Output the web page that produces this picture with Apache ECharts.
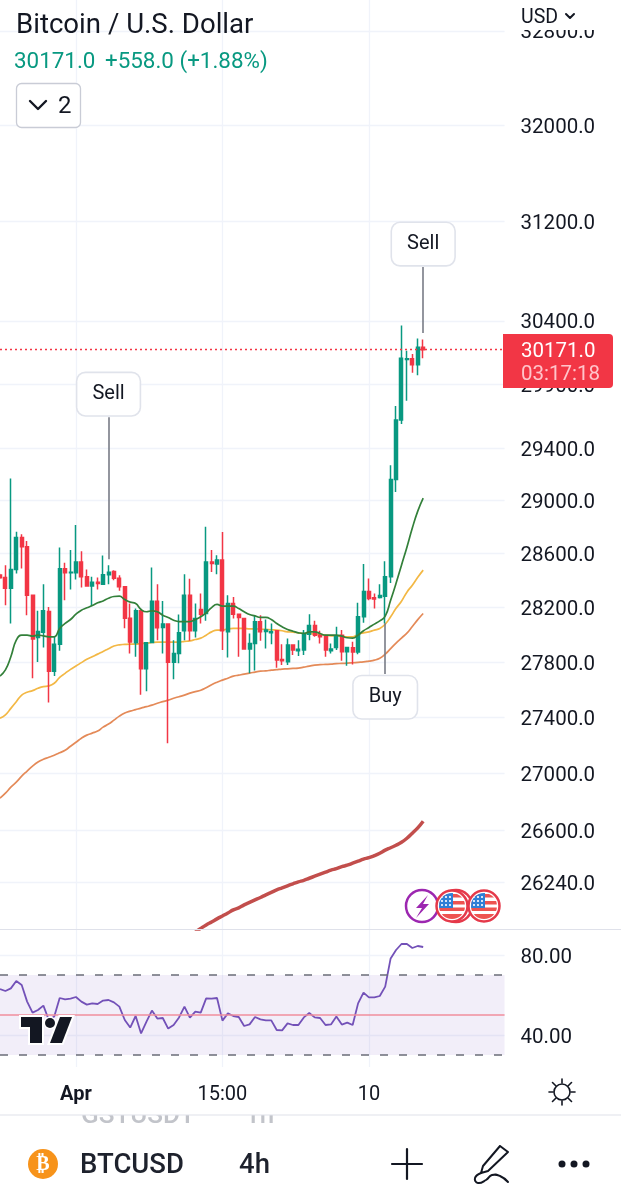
<!DOCTYPE html>
<html>
<head>
<meta charset="utf-8">
<title>BTCUSD</title>
<style>
html,body{margin:0;padding:0;background:#fff;}
#main{width:621px;height:1200px;}
</style>
<script src="https://cdn.jsdelivr.net/npm/echarts@6/dist/echarts.min.js"></script>
</head>
<body>
<div id="main"></div>
<script>
/* [open, close, low, high], index 0 sits on the left edge */
var candles = [
[28440,28420,28410,28450],[28422,28343,28217,28514],[28343,28482,28082,29170],[28482,28722,28452,28765],
[28722,28652,28490,28747],[28652,28290,28143,28695],[28290,27967,27681,28290],[27979,28023,27800,28175],
[28018,28175,27906,28372],[28170,27732,27507,28204],[27732,27930,27698,27984],[27930,28487,27882,28647],
[28487,28457,28253,28532],[28457,28462,28333,28627],[28457,28537,28407,28815],[28537,28427,28348,28619],
[28427,28358,28358,28482],[28358,28387,28209,28427],[28387,28377,28333,28422],[28372,28442,28372,28587],
[28442,28462,28372,28514],[28467,28417,28402,28477],[28417,28353,28323,28439],[28353,28121,28047,28353],
[28121,27945,27862,28229],[27940,28175,27838,28192],[28175,27751,27562,28175],[27751,27940,27587,27940],
[27942,28246,27940,28497],[28246,28050,27959,28372],[28052,28077,27862,28248],[28077,27797,27214,28082],
[27797,27862,27674,27959],[27862,28013,27790,28148],[28028,28290,27959,28447],[28290,28028,27954,28412],
[28028,28119,27979,28229],[28185,28150,28082,28303],[28155,28537,28101,28803],[28537,28527,28464,28627],
[28522,28552,28447,28589],[28552,28028,27887,28763],[28020,28229,27833,28290],[28229,28150,28119,28278],
[28150,28126,27838,28150],[28119,27894,27889,28119],[27894,27935,27717,28008],[27935,28094,27737,28143],
[28094,28020,27954,28143],[28023,28033,27899,28111],[28013,28020,27930,28082],[28028,27814,27758,28028],
[27818,27809,27778,27930],[27802,27923,27778,27972],[27923,27887,27850,27930],[27882,27892,27843,27959],
[27887,28008,27850,28033],[28003,28067,27959,28150],[28067,27996,27984,28101],[27996,27984,27935,28028],
[27989,27887,27838,27996],[27882,27894,27862,27935],[27906,27984,27887,28057],[27996,27875,27809,28033],
[27875,27906,27773,27911],[27904,27872,27782,27947],[27872,28131,27857,28234],[28131,28318,28087,28522],
[28318,28266,28253,28414],[28271,28263,28192,28303],[28273,28288,28266,28372],[28283,28427,28082,28544],
[28427,29162,28382,29271],[29162,29619,29067,29728],[29619,30102,29588,30363],[30094,30099,29769,30162],
[30099,30051,29988,30136],[30051,30189,29970,30260],[30189,30171,30102,30252]
];
var greenMa = [27698,27742,27838,27959,27996,27996,27989,27996,27991,27984,27984,28045,28082,28111,28150,28180,28197,28214,28234,28248,28268,28281,28283,28258,28239,28229,28185,28168,28175,28168,28143,28126,28106,28096,28096,28096,28111,28131,28160,28199,28222,28209,28209,28209,28192,28168,28148,28138,28126,28126,28111,28082,28057,28038,28025,28013,28008,28020,28020,28008,27996,27996,27996,27989,27977,27974,27996,28028,28052,28077,28101,28136,28253,28379,28514,28649,28793,28921,29020];
var yellowMa = [27393,27417,27464,27512,27560,27580,27592,27609,27621,27626,27645,27688,27717,27746,27770,27795,27819,27838,27857,27877,27896,27916,27925,27928,27930,27930,27935,27937,27942,27945,27945,27945,27945,27945,27950,27954,27964,27974,27996,28020,28033,28033,28042,28045,28045,28045,28042,28042,28040,28038,28035,28033,28028,28020,28018,28013,28008,28008,28003,28001,27996,27991,27989,27987,27984,27984,28003,28013,28020,28033,28045,28077,28131,28194,28246,28313,28365,28424,28477];
var orangeMa = [26825,26860,26903,26938,26980,27016,27051,27080,27100,27114,27129,27146,27164,27193,27221,27250,27272,27286,27301,27329,27351,27379,27408,27430,27444,27455,27466,27476,27487,27501,27512,27523,27537,27548,27559,27574,27585,27595,27613,27635,27653,27668,27682,27697,27704,27711,27719,27726,27733,27735,27740,27744,27748,27750,27753,27755,27762,27769,27777,27780,27782,27784,27788,27789,27791,27794,27797,27800,27806,27813,27827,27857,27897,27938,27975,28011,28060,28110,28155];
var darkMa = [null,null,null,null,null,null,null,null,null,null,null,null,null,null,null,null,null,null,null,null,null,null,null,null,null,null,null,null,null,null,null,null,null,null,null,null,25900,25925,25949,25969,25990,26010,26030,26051,26065,26085,26102,26119,26136,26154,26171,26188,26202,26216,26230,26243,26254,26268,26282,26296,26310,26324,26334,26348,26358,26372,26386,26400,26410,26424,26441,26462,26479,26496,26517,26545,26580,26617,26663];
var rsi = [63,62,63.3,67,65,56.7,51.2,52.5,54.7,47.5,49.2,58.5,57.8,58.2,59,56.7,55.2,55.8,55.5,57.2,57.5,56.3,54.2,47.5,43.7,49.5,40.8,46.7,52.2,48.2,48.5,43.2,45,48.8,54.2,48.7,51.7,51.2,58.3,58.2,58.5,47.2,50.8,49.5,49,44.5,45.3,49,47.8,47.3,47.3,42.5,42.3,45.8,45,45,48.8,51,48.8,48.5,45,45.3,49.3,45.2,46.2,45,55.8,61.2,58.8,58.8,59.5,64.2,78.3,82.5,85.5,85.5,83.5,84.5,84];

var priceTicks = [32800,32000,31200,30400,29900,29400,29000,28600,28200,27800,27400,27000,26600,26240];
var rsiTicks = [80,40];
var timeTickIndex = [14,41,68];
var timeTickLabels = ['Apr','15:00','10'];
var lastPrice = 30171;

var signalText = ['Sell','Sell','Buy'];
var signalIndex = [20,78,71];
var signalBoxPrice = [29821,31017,27544];
var signalPinFrom = [29642,30831,28084];
var signalPinTo = [28559,30302,27712];

var categories = [];
for(var n = 0; n < 94; n++){categories.push(String(n));}

var UP = '#089981', DOWN = '#F23645', FONT = 'Roboto', INK = '#131722';

function isTimeTick(i){return timeTickIndex.indexOf(Number(i)) >= 0}

function txt(x,y,str,size,color,extra){
    var s = {x:x,y:y,text:str,fontFamily:FONT,fontSize:size,fill:color,textVerticalAlign:'middle'};
    for(var k in (extra||{})){s[k] = extra[k];}
    return {type:'text',z:100,silent:true,style:s};
}
function seg(x1,y1,x2,y2,color,w){
    return {type:'line',z:100,silent:true,shape:{x1:x1,y1:y1,x2:x2,y2:y2},style:{stroke:color,lineWidth:w,lineCap:'round'}};
}
function poly(points,color,w,smooth){
    return {type:'polyline',z:100,silent:true,shape:{points:points,smooth:smooth||0},style:{stroke:color,lineWidth:w,fill:null,lineCap:'round',lineJoin:'round'}};
}
function flagIcon(x,y){
    var stars = '';
    [[7,8],[11,8],[15,8],[7,12],[11,12],[15,12],[7,16],[11,16],[15,16]].forEach(function(p){
        stars += "<circle cx='"+p[0]+"' cy='"+p[1]+"' r='1.1' fill='#fff'/>";
    });
    var svg = "<svg xmlns='http://www.w3.org/2000/svg' width='34' height='34'><defs><clipPath id='c'><circle cx='17' cy='17' r='13'/></clipPath></defs>"
        +"<circle cx='17' cy='17' r='15.5' fill='#fff' stroke='#e5394a' stroke-width='2.5'/><g clip-path='url(#c)'><rect width='34' height='34' fill='#fff'/>"
        +"<rect y='5' width='34' height='3.5' fill='#ee5350'/><rect y='12' width='34' height='3.5' fill='#ee5350'/><rect y='18.5' width='34' height='3.5' fill='#ee5350'/><rect y='25' width='34' height='6' fill='#ee5350'/>"
        +"<rect y='3' x='3' width='15' height='16' fill='#2f7fd6'/>"+stars+"</g></svg>";
    return {type:'image',z:101,silent:true,style:{image:'data:image/svg+xml,'+encodeURIComponent(svg),x:x-17,y:y-17,width:34,height:34}};
}

var chartObj = {
    myChart : echarts.init(document.getElementById('main')),
    init : function(){
        this.render();
    },
    signalLines : function(){
        var arr = [];
        for(var i = 0; i < signalText.length; i++){
            arr.push([
                {coord:[categories[signalIndex[i]],signalPinFrom[i]]},
                {coord:[categories[signalIndex[i]],signalPinTo[i]]}
            ]);
        }
        return arr;
    },
    signalBoxes : function(){
        var arr = [];
        for(var i = 0; i < signalText.length; i++){
            arr.push({name:signalText[i],coord:[categories[signalIndex[i]],signalBoxPrice[i]]});
        }
        return arr;
    },
    overlay : function(){
        var list = [
            /* top right, hides most of the 32800 label */
            {type:'rect',z:99,silent:true,shape:{x:505,y:0,width:116,height:30},style:{fill:'#fff'}},
            txt(16,26,'Bitcoin / U.S. Dollar',27.6,INK),
            txt(14,62,'30171.0',22.4,UP),
            txt(105,62,'+558.0 (+1.88%)',22.4,UP),
            {type:'rect',z:100,silent:true,shape:{x:16.5,y:83.5,width:64,height:44,r:5},style:{fill:'#fff',stroke:'#c9ccd6',lineWidth:1.3}},
            poly([[30,101],[38,109],[46,101]],INK,2.4),
            txt(58,107,'2',24,INK),
            txt(521,18,'USD',19.5,INK),
            poly([[566,14],[570,18],[574,14]],INK,2),
            /* last price tag */
            {type:'rect',z:100,silent:true,shape:{x:503,y:334,width:110,height:54,r:[0,4,4,0]},style:{fill:DOWN}},
            txt(521,352,'30171.0',20.5,'#fff'),
            txt(521,375,'03:17:18',20.5,'#ffc4ca'),
            /* indicator badges */
            {type:'circle',z:100,silent:true,shape:{cx:422,cy:906,r:16},style:{fill:'#fff',stroke:'#9c27b0',lineWidth:2.5}},
            {type:'polygon',z:100,silent:true,shape:{points:[[428,895],[416,908],[422,908],[416,918],[429,904],[423,904]]},style:{fill:'#9c27b0'}},
            flagIcon(484,906),
            {type:'circle',z:100,silent:true,shape:{cx:456,cy:906,r:16},style:{fill:'#fff',stroke:'#e5394a',lineWidth:2.5}},
            flagIcon(452,906),
            /* watermark */
            {type:'polygon',z:100,silent:true,shape:{points:[[21,1017],[42,1017],[42,1043],[30,1043],[30,1027],[21,1027]]},style:{fill:INK,stroke:'#fff',lineWidth:4}},
            {type:'circle',z:100,silent:true,shape:{cx:50,cy:1023,r:5},style:{fill:INK,stroke:'#fff',lineWidth:3}},
            {type:'polygon',z:100,silent:true,shape:{points:[[60,1017],[72,1017],[62,1043],[50,1043]]},style:{fill:INK,stroke:'#fff',lineWidth:4}},
            {type:'polygon',z:101,silent:true,shape:{points:[[21,1017],[42,1017],[42,1043],[30,1043],[30,1027],[21,1027]]},style:{fill:INK}},
            {type:'polygon',z:101,silent:true,shape:{points:[[60,1017],[72,1017],[62,1043],[50,1043]]},style:{fill:INK}},
            {type:'circle',z:101,silent:true,shape:{cx:50,cy:1023,r:5},style:{fill:INK}},
            /* settings sun */
            {type:'circle',z:100,silent:true,shape:{cx:562,cy:1092,r:8},style:{fill:'#fff',stroke:INK,lineWidth:1.6}},
            /* bottom bar, the list behind it is cut by the separator */
            txt(81,1116,'GSTUSDT',26,'#c2c4ca',{fontWeight:500}),
            txt(245,1116,'1h',26,'#c2c4ca',{fontWeight:500}),
            {type:'rect',z:100,silent:true,shape:{x:60,y:1104,width:240,height:11},style:{fill:'#fff'}},
            {type:'line',z:100,silent:true,shape:{x1:0,y1:929.5,x2:621,y2:929.5},style:{stroke:'#dfe1ea',lineWidth:1.2}},
            {type:'line',z:100,silent:true,shape:{x1:0,y1:1115,x2:621,y2:1115},style:{stroke:'#dfe1ea',lineWidth:1.2}},
            {type:'circle',z:100,silent:true,shape:{cx:43,cy:1164,r:15},style:{fill:'#f7931a'}},
            txt(43,1165,'₿',20,'#fff',{textAlign:'center',fontFamily:'DejaVu Sans',fontWeight:'bold'}),
            txt(80,1166,'BTCUSD',27.5,'#1e222d',{fontWeight:500}),
            txt(239,1166,'4h',27.5,'#1e222d',{fontWeight:500}),
            seg(392,1164,422,1164,INK,2.2),
            seg(407,1149,407,1179,INK,2.2),
            poly([[500,1146],[483,1166],[481,1173],[488,1171],[508,1152],[500,1146]],INK,2),
            poly([[481,1173],[475,1178],[478,1183],[486,1180],[492,1175],[500,1176],[508,1182]],INK,2,0.5),
            {type:'circle',z:100,silent:true,shape:{cx:562,cy:1164,r:3.5},style:{fill:INK}},
            {type:'circle',z:100,silent:true,shape:{cx:574,cy:1164,r:3.5},style:{fill:INK}},
            {type:'circle',z:100,silent:true,shape:{cx:586,cy:1164,r:3.5},style:{fill:INK}}
        ];
        /* sun rays */
        var rays = [[0,-13,0,-9],[0,13,0,9],[-13,0,-9,0],[13,0,9,0],[-9.5,-9.5,-6.5,-6.5],[9.5,-9.5,6.5,-6.5],[-9.5,9.5,-6.5,6.5],[9.5,9.5,6.5,6.5]];
        rays.forEach(function(r){list.push(seg(562+r[0],1092+r[1],562+r[2],1092+r[3],INK,1.6));});
        return list;
    },
    render : function(){
        var that = this;
        var gridLine = {show:true,lineStyle:{color:'#f0f3fa',width:1.3}};
        var option = {
            animation : false,
            backgroundColor : '#fff',
            textStyle : {fontFamily:FONT},
            grid : [
                {left:-0.43,top:0,width:505,height:929},
                {left:-0.43,top:930,width:505,height:137}
            ],
            xAxis : [
                {
                    type:'category',gridIndex:0,data:categories,boundaryGap:false,
                    axisLine:{show:false},axisTick:{show:false},axisLabel:{show:false},
                    splitLine:{show:true,interval:function(i){return isTimeTick(i)},lineStyle:gridLine.lineStyle}
                },
                {
                    type:'category',gridIndex:1,data:categories,boundaryGap:false,
                    axisLine:{show:false},axisTick:{show:false},
                    axisLabel:{
                        show:true,margin:18,fontSize:20,color:INK,fontFamily:FONT,
                        interval:function(i){return isTimeTick(i)},
                        formatter:function(v){
                            var pos = timeTickIndex.indexOf(Number(v));
                            var label = pos < 0 ? '' : timeTickLabels[pos];
                            return label === 'Apr' ? '{b|'+label+'}' : label;
                        },
                        rich:{b:{fontWeight:'bold',fontSize:20,color:INK,fontFamily:FONT}}
                    },
                    splitLine:{show:true,interval:function(i){return isTimeTick(i)},lineStyle:gridLine.lineStyle}
                }
            ],
            yAxis : [
                {
                    type:'log',logBase:10,gridIndex:0,position:'right',min:25921,max:33066,
                    axisLine:{show:false},
                    axisTick:{show:false,customValues:priceTicks},
                    axisLabel:{
                        show:true,customValues:priceTicks,margin:16,fontSize:20.5,color:INK,fontFamily:FONT,
                        verticalAlign:'top',lineHeight:5,
                        formatter:function(v){return Number(v).toFixed(1)}
                    },
                    splitLine:gridLine
                },
                {
                    type:'value',gridIndex:1,position:'right',min:24,max:92.5,
                    axisLine:{show:false},
                    axisTick:{show:false,customValues:rsiTicks},
                    axisLabel:{
                        show:true,customValues:rsiTicks,margin:16,fontSize:20.5,color:INK,fontFamily:FONT,
                        verticalAlign:'top',lineHeight:5,
                        formatter:function(v){return Number(v).toFixed(2)}
                    },
                    splitLine:gridLine
                }
            ],
            series : [
                {type:'line',name:'MA long',data:darkMa,xAxisIndex:0,yAxisIndex:0,symbol:'none',z:2,smooth:0.5,lineStyle:{color:'#c24e4c',width:3.5}},
                {type:'line',name:'MA mid',data:orangeMa,xAxisIndex:0,yAxisIndex:0,symbol:'none',z:2,smooth:0.5,lineStyle:{color:'#e48a58',width:1.7}},
                {type:'line',name:'MA fast',data:yellowMa,xAxisIndex:0,yAxisIndex:0,symbol:'none',z:2,smooth:0.5,lineStyle:{color:'#f3b845',width:1.7}},
                {type:'line',name:'MA short',data:greenMa,xAxisIndex:0,yAxisIndex:0,symbol:'none',z:4,smooth:0.5,lineStyle:{color:'#33803a',width:1.7}},
                {
                    type:'candlestick',name:'BTCUSD',data:candles,xAxisIndex:0,yAxisIndex:0,z:3,barWidth:3.5,
                    itemStyle:{color:UP,color0:DOWN,borderColor:UP,borderColor0:DOWN,borderWidth:1.5},
                    markLine:{
                        silent:true,symbol:'none',animation:false,label:{show:false},
                        data:[{yAxis:lastPrice,lineStyle:{color:DOWN,type:[2,3],width:1.3}}]
                            .concat(that.signalLines().map(function(p){
                                p[0].lineStyle = {color:'#787b86',type:'solid',width:1.6};
                                return p;
                            }))
                    },
                    markPoint:{
                        silent:true,symbol:'circle',symbolSize:1,itemStyle:{color:'rgba(0,0,0,0)'},
                        data:that.signalBoxes(),
                        label:{
                            show:true,position:'inside',formatter:'{b}',fontFamily:FONT,fontSize:20,color:INK,
                            backgroundColor:'#fff',borderColor:'#e0e3eb',borderWidth:1.6,borderRadius:8,padding:[15,15,7,15]
                        }
                    }
                },
                {
                    type:'line',name:'RSI',data:rsi,xAxisIndex:1,yAxisIndex:1,symbol:'none',z:4,
                    lineStyle:{color:'#7351b8',width:1.8},
                    markArea:{silent:true,itemStyle:{color:'rgba(126,87,194,0.1)'},data:[[{yAxis:70},{yAxis:30}]]},
                    markLine:{
                        silent:true,symbol:'none',animation:false,label:{show:false},
                        data:[
                            {yAxis:70,lineStyle:{color:'#6b6e78',type:[8,11],width:1.6}},
                            {yAxis:30,lineStyle:{color:'#6b6e78',type:[8,11],width:1.6}},
                            {yAxis:50,lineStyle:{color:'#f08e9d',type:'solid',width:1.5}}
                        ]
                    }
                }
            ],
            graphic : that.overlay()
        };
        that.myChart.setOption(option);
    }
};
chartObj.init();
</script>
</body>
</html>
